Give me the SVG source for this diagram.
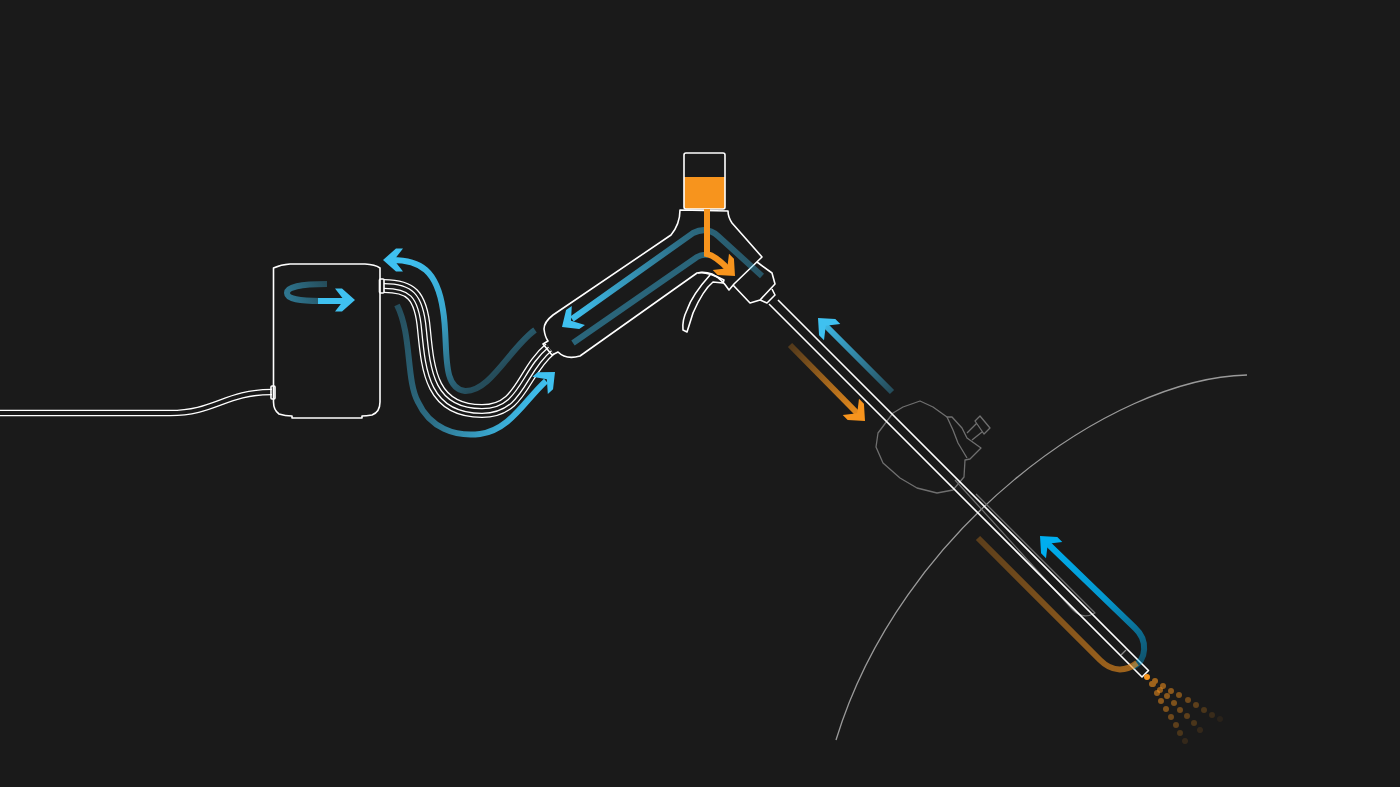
<svg xmlns="http://www.w3.org/2000/svg" width="1400" height="787" viewBox="0 0 1400 787">
<style>
.o{fill:none;stroke:#fff;stroke-width:1.6;stroke-linejoin:round}
.g{fill:none;stroke:#6f6f6f;stroke-width:1.3;stroke-linejoin:round}
.a{fill:none;stroke-width:6}
.d{fill:#f7941d}
</style>
<defs>
<polygon id="head" points="0,0 -13,-11.5 -20,-11.5 -11,0 -20,11.5 -13,11.5"/>
<linearGradient id="g1" gradientUnits="userSpaceOnUse" x1="500" y1="390" x2="400" y2="260"><stop offset="0.1" stop-color="#3fc1f0" stop-opacity=".3"/><stop offset="0.6" stop-color="#3fc1f0" stop-opacity=".85"/><stop offset="1" stop-color="#3fc1f0"/></linearGradient>
<linearGradient id="g2" gradientUnits="userSpaceOnUse" x1="395" y1="300" x2="550" y2="380"><stop offset="0" stop-color="#3fc1f0" stop-opacity=".3"/><stop offset="0.5" stop-color="#3fc1f0" stop-opacity=".5"/><stop offset="1" stop-color="#3fc1f0"/></linearGradient>
<linearGradient id="g3" gradientUnits="userSpaceOnUse" x1="327" y1="284" x2="345" y2="300"><stop offset="0" stop-color="#3fc1f0" stop-opacity=".3"/><stop offset="1" stop-color="#3fc1f0"/></linearGradient>
<linearGradient id="g3b" gradientUnits="userSpaceOnUse" x1="325" y1="280" x2="290" y2="300"><stop offset="0" stop-color="#3fc1f0" stop-opacity=".3"/><stop offset="1" stop-color="#3fc1f0" stop-opacity=".55"/></linearGradient>
<linearGradient id="g4" gradientUnits="userSpaceOnUse" x1="762" y1="270" x2="570" y2="325"><stop offset="0" stop-color="#3fc1f0" stop-opacity=".35"/><stop offset="0.35" stop-color="#3fc1f0" stop-opacity=".5"/><stop offset="1" stop-color="#3fc1f0"/></linearGradient>
<linearGradient id="g5" gradientUnits="userSpaceOnUse" x1="892" y1="392" x2="818" y2="318"><stop offset="0" stop-color="#3fc1f0" stop-opacity=".3"/><stop offset="1" stop-color="#3fc1f0"/></linearGradient>
<linearGradient id="g6" gradientUnits="userSpaceOnUse" x1="790" y1="345" x2="865" y2="421"><stop offset="0" stop-color="#f7941d" stop-opacity=".25"/><stop offset="1" stop-color="#f7941d"/></linearGradient>
<linearGradient id="g7" gradientUnits="userSpaceOnUse" x1="1133" y1="667" x2="1040" y2="536"><stop offset="0" stop-color="#00aeef" stop-opacity=".4"/><stop offset="0.45" stop-color="#00aeef" stop-opacity=".85"/><stop offset="1" stop-color="#00aeef"/></linearGradient>
<linearGradient id="g8" gradientUnits="userSpaceOnUse" x1="978" y1="538" x2="1125" y2="675"><stop offset="0" stop-color="#f7941d" stop-opacity=".3"/><stop offset="1" stop-color="#f7941d" stop-opacity=".6"/></linearGradient>
</defs>
<rect width="1400" height="787" fill="#1a1a1a"/>

<g id="body-arc"><path d="M1247 375C1110 378 900 530 836 740" fill="none" stroke="#9a9a9a" stroke-width="1.3"/></g>

<g id="port">
<path class="g" d="M893 413L903 407 920 401 933 407 947 417 952 417 962 428 967 438 981 448 970 459 965 460 964 477 953 490 937 493 917 488 900 478 883 463 876 447 878 433Z"/>
<path class="g" d="M947 417L953 430 958 443 967 458"/>
<path class="g" d="M967 433L977 423M972 440L982 432M975 421L980 416 990 428 984 434 975 421Z"/>
<path class="g" d="M955 480L1073 610Q1083 620 1095 613L976 494"/>
</g>

<g id="power-cable" fill="none">
<path d="M0 413H170C215 413 225 392 272 392" stroke="#fff" stroke-width="6.4"/>
<path d="M0 413H170C215 413 225 392 272 392" stroke="#1a1a1a" stroke-width="3.8"/>
</g>

<g id="hose" fill="none">
<path id="h" d="M384 286C410 286 421 294 424 330C428 372 432 411 482 411C522 411 522 372 550 349" stroke="#fff" stroke-width="14"/>
<path d="M384 286C410 286 421 294 424 330C428 372 432 411 482 411C522 411 522 372 550 349" stroke="#1a1a1a" stroke-width="11.4"/>
<path d="M384 286C410 286 421 294 424 330C428 372 432 411 482 411C522 411 522 372 550 349" stroke="#fff" stroke-width="6"/>
<path d="M384 286C410 286 421 294 424 330C428 372 432 411 482 411C522 411 522 372 550 349" stroke="#1a1a1a" stroke-width="3.4"/>
</g>

<g id="pump">
<path class="o" d="M273.500 268Q281 264.500 290 264H365Q375 264.500 380 268V402Q380 412 372 415 366 416 362 416V418H292V416Q285 416 279 414 273.500 410 273.500 402Z" fill="#1a1a1a"/>
<rect class="o" x="379.500" y="279" width="4.500" height="14" rx="1"/>
<rect class="o" x="271" y="386" width="4" height="13" rx="1"/>
</g>

<g id="connectors">
<path class="a" stroke="url(#g1)" d="M535 330C510 348 490 392 465 391C440 388 449 345 443 310C437 270 420 260 392 260"/>
<use href="#head" fill="#3fc1f0" transform="translate(383 260) rotate(180)"/>
<path class="a" stroke="url(#g2)" d="M397 305C412 335 406 380 418 402C430 428 455 437 480 434C510 430 525 400 546 381"/>
<use href="#head" fill="#3fc1f0" transform="translate(555 372) rotate(-42)"/>
<path class="a" stroke="url(#g3b)" d="M327 284C300 284 287 287 287 293C287 299 300 301 320 301"/>
<path class="a" stroke="#3fc1f0" d="M318 301H346"/>
<use href="#head" fill="#3fc1f0" transform="translate(355 300)"/>
</g>

<g id="handle">
<path class="o" d="M680 210Q680 224 671 235L553 315Q544 322 544 329 545 337 548 341L543 344 552 355 558 352Q566 360 580 356L697 273Q704 271 712 274 722 279 729 290L734 284 762 257 732 223Q728 217 728 211Z"/>
<path class="o" d="M698 273Q706 271 724 280L723 283 713 282Q703 290 693 313L687 332 683 330Q682 320 687 310 692 295 710 275"/>
<path class="o" d="M733 285L750 303 760 300 775 284 772 273 757 262M760 300L767 303 775 295 772 289"/>
</g>

<g id="bottle">
<rect x="684" y="177" width="41" height="32" fill="#f7941d"/>
<rect class="o" x="684" y="153" width="41" height="56" rx="2"/>
</g>

<g id="shaft">
<path class="o" d="M769 304L1142 677 1148.500 670.500 778 300"/>
<path d="M1126 650L1121 655" stroke="#8a8a8a" stroke-width="1.300"/>
</g>

<g id="connectors-2">
<path class="a" stroke="#3fc1f0" stroke-opacity=".45" d="M573 343L697 257Q702 254 708 255"/>
<path class="a" stroke="url(#g4)" d="M762 276L718 236Q707 226 693 233L572 319"/>
<use href="#head" fill="#3fc1f0" transform="translate(562 327) rotate(145)"/>
<path class="a" stroke="#f7941d" d="M707 209V254Q716 256 728 269"/>
<use href="#head" fill="#f7941d" transform="translate(735 276) rotate(45)"/>
<path class="a" stroke="url(#g5)" d="M892 392L825 325"/>
<use href="#head" fill="#3fc1f0" transform="translate(818 318) rotate(-135)"/>
<path class="a" stroke="url(#g6)" d="M790 345L858 414"/>
<use href="#head" fill="#f7941d" transform="translate(865 421) rotate(45)"/>
<path class="a" stroke="url(#g7)" d="M1133 667C1147 660 1148 640 1135 628L1047 543"/>
<use href="#head" fill="#00aeef" transform="translate(1040 536) rotate(-135)"/>
<path class="a" stroke="url(#g8)" d="M978 538L1100 660C1112 672 1125 672 1137 663"/>
</g>

<g id="spray" class="d">
<circle cx="1147" cy="677" r="3"/>
<g opacity=".6"><circle cx="1155" cy="681" r="3"/><circle cx="1152" cy="684" r="3"/><circle cx="1153" cy="684" r="3"/></g>
<circle cx="1163" cy="686" r="3" opacity=".55"/><circle cx="1171" cy="691" r="3" opacity=".5"/><circle cx="1179" cy="695" r="3" opacity=".45"/><circle cx="1188" cy="700" r="3" opacity=".38"/><circle cx="1196" cy="705" r="3" opacity=".3"/><circle cx="1204" cy="710" r="3" opacity=".22"/><circle cx="1212" cy="715" r="3" opacity=".14"/><circle cx="1220" cy="719" r="3" opacity=".07"/>
<circle cx="1160" cy="690" r="3" opacity=".55"/><circle cx="1167" cy="696" r="3" opacity=".5"/><circle cx="1174" cy="703" r="3" opacity=".45"/><circle cx="1180" cy="710" r="3" opacity=".38"/><circle cx="1187" cy="716" r="3" opacity=".3"/><circle cx="1194" cy="723" r="3" opacity=".22"/><circle cx="1200" cy="730" r="3" opacity=".12"/>
<circle cx="1157" cy="693" r="3" opacity=".55"/><circle cx="1161" cy="701" r="3" opacity=".5"/><circle cx="1166" cy="709" r="3" opacity=".45"/><circle cx="1171" cy="717" r="3" opacity=".38"/><circle cx="1176" cy="725" r="3" opacity=".3"/><circle cx="1180" cy="733" r="3" opacity=".22"/><circle cx="1185" cy="741" r="3" opacity=".12"/>
</g>
</svg>
